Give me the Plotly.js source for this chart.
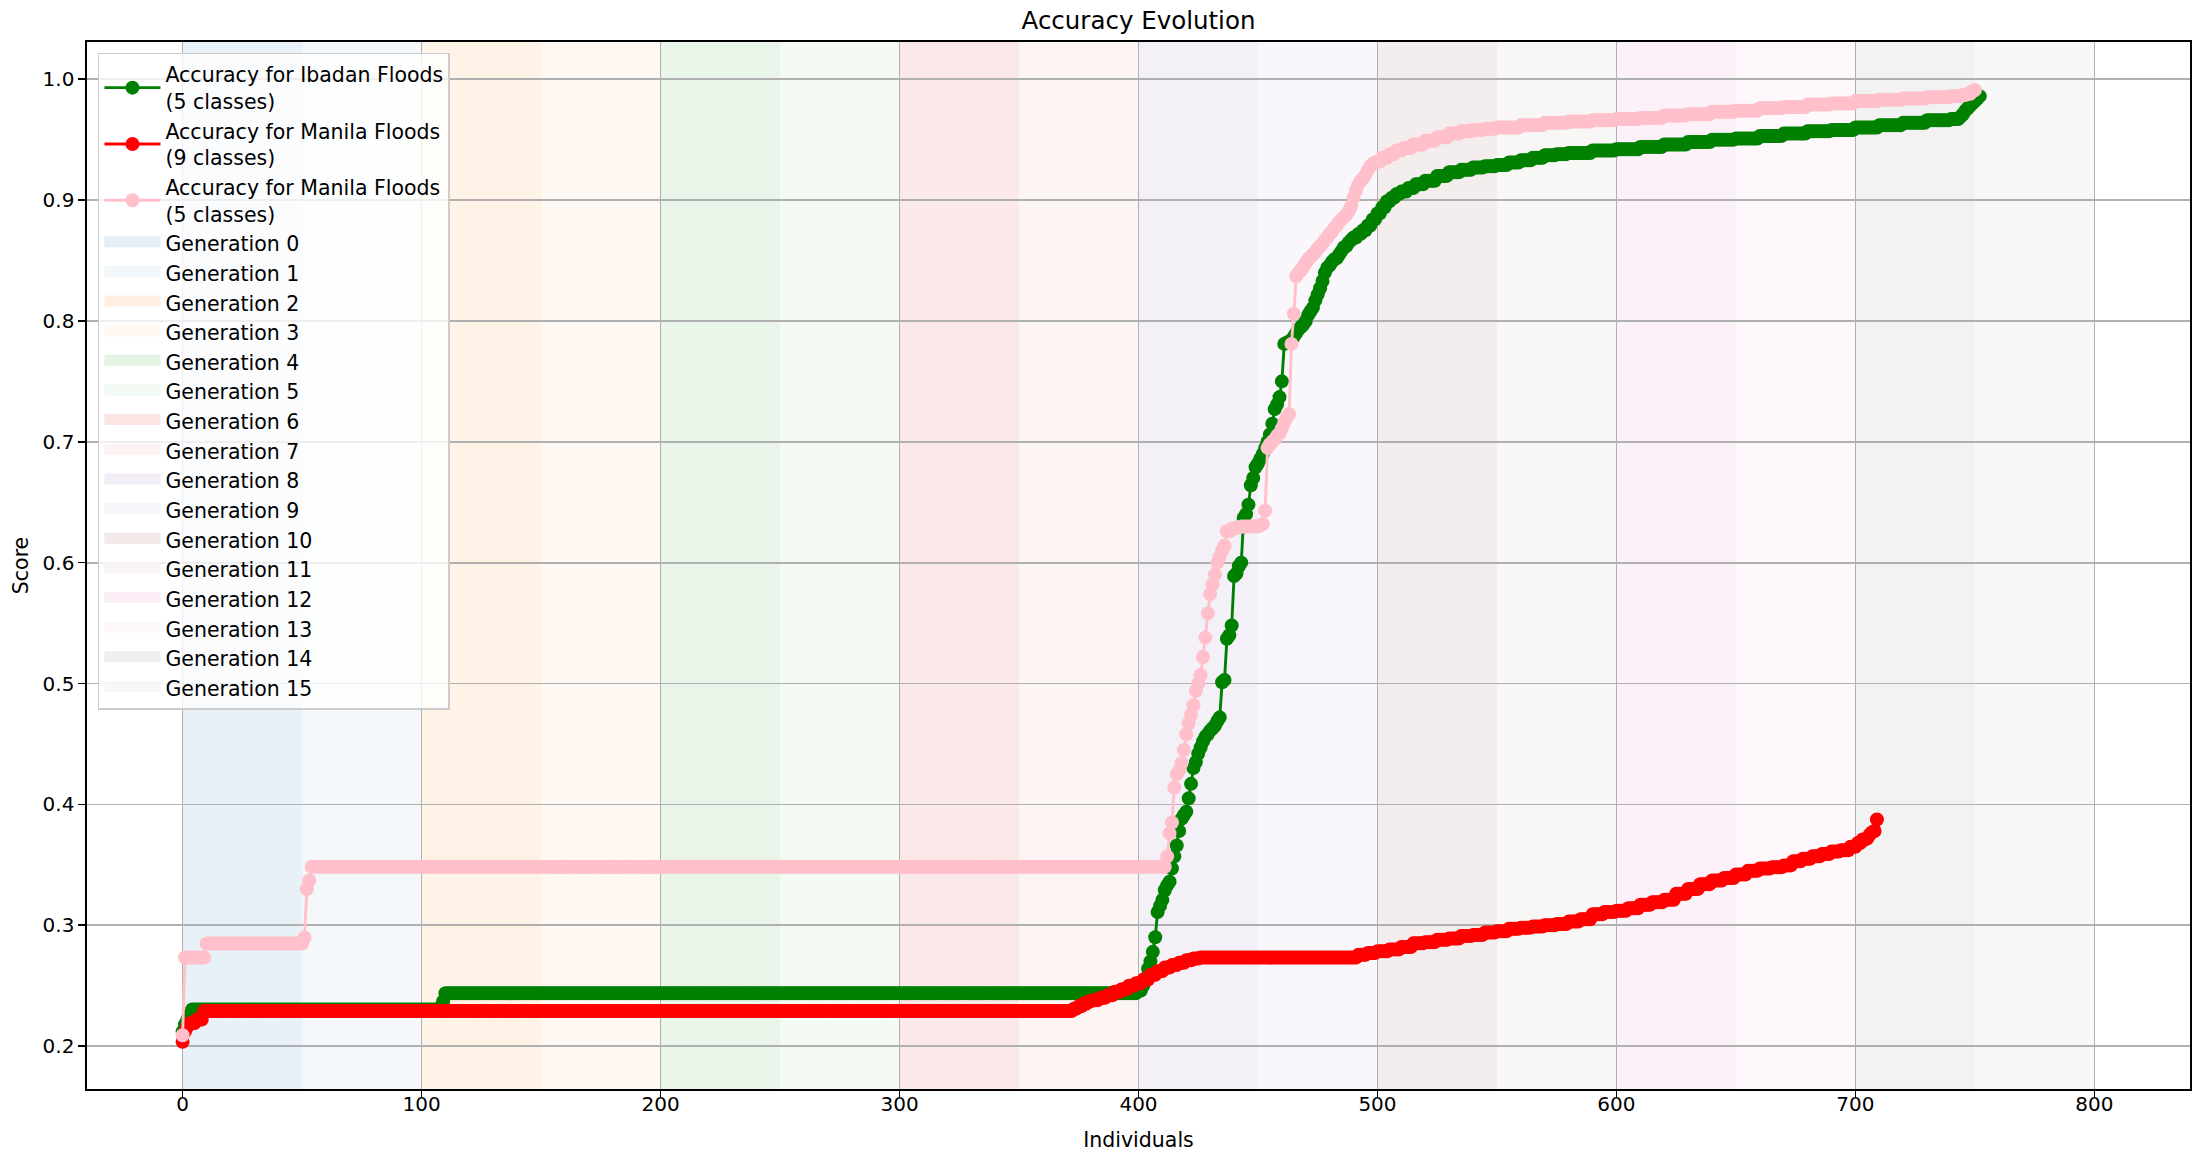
<!DOCTYPE html>
<html>
<head>
<meta charset="utf-8">
<script src="https://cdn.plot.ly/plotly-3.0.1.min.js"></script>
<style>html,body{margin:0;padding:0;background:#fff;}</style>
</head>
<body>
<div id="chart" style="width:2203px;height:1159px;"></div>
<script>
// ---- Data ----
// Each series: individual index where a score value starts, and that score (held until the next listed index).
const ibadanFrom = [0,1,2,3,4,108,109,110,400,402,403,404,405,406,407,408,409,410,411,412,413,414,415,416,417,418,419,420,421,422,423,424,425,426,427,428,429,430,431,432,433,434,435,436,437,438,439,440,441,442,443,444,445,446,447,448,449,450,451,452,453,454,455,456,457,458,459,460,461,462,463,464,465,466,467,468,469,470,471,472,473,474,475,476,477,478,479,480,481,482,483,484,485,486,487,488,489,490,492,494,496,498,500,502,504,506,508,510,513,516,520,525,530,535,540,545,550,555,560,565,570,575,580,590,600,610,620,630,640,650,660,670,680,690,700,710,720,730,740,744,745,746,747,748,749,750,751,752];
const ibadanScore = [0.212,0.218,0.222,0.226,0.2303,0.232,0.237,0.2438,0.246,0.250,0.256,0.264,0.270,0.278,0.290,0.311,0.316,0.321,0.329,0.333,0.336,0.347,0.357,0.366,0.378,0.388,0.391,0.394,0.405,0.417,0.430,0.435,0.442,0.447,0.452,0.456,0.458,0.461,0.463,0.465,0.469,0.472,0.501,0.503,0.537,0.540,0.548,0.589,0.591,0.597,0.600,0.637,0.640,0.648,0.664,0.670,0.679,0.682,0.686,0.690,0.695,0.700,0.706,0.715,0.727,0.731,0.737,0.750,0.781,0.782,0.783,0.784,0.787,0.790,0.793,0.795,0.797,0.800,0.805,0.808,0.811,0.817,0.822,0.827,0.833,0.840,0.844,0.846,0.849,0.851,0.852,0.855,0.858,0.861,0.862,0.865,0.867,0.869,0.872,0.875,0.879,0.884,0.889,0.894,0.899,0.902,0.905,0.907,0.910,0.913,0.916,0.920,0.923,0.925,0.927,0.928,0.929,0.931,0.933,0.935,0.937,0.938,0.939,0.941,0.942,0.944,0.946,0.948,0.950,0.951,0.953,0.955,0.957,0.958,0.960,0.962,0.964,0.966,0.967,0.969,0.971,0.974,0.976,0.978,0.980,0.982,0.984,0.986];
const ibadanCount = 753;

const manila9From = [0,1,2,3,6,9,373,375,377,379,381,384,387,390,393,396,399,402,405,408,411,414,417,420,423,426,492,496,500,505,510,515,520,525,530,535,540,545,550,555,560,565,570,575,580,585,590,595,600,605,610,615,620,625,630,635,640,645,650,655,660,665,670,674,678,682,686,690,694,698,701,703,705,706,707,708,709];
const manila9Score = [0.2035,0.212,0.216,0.219,0.222,0.229,0.231,0.233,0.235,0.237,0.238,0.240,0.242,0.245,0.247,0.250,0.252,0.255,0.259,0.262,0.265,0.267,0.269,0.271,0.2725,0.2733,0.2755,0.277,0.2785,0.280,0.282,0.285,0.286,0.288,0.289,0.291,0.292,0.294,0.295,0.297,0.298,0.299,0.300,0.301,0.303,0.305,0.309,0.311,0.312,0.314,0.317,0.319,0.321,0.326,0.330,0.334,0.337,0.339,0.342,0.345,0.347,0.348,0.3495,0.353,0.355,0.357,0.359,0.361,0.362,0.365,0.368,0.371,0.372,0.375,0.377,0.378,0.3875];
const manila9Count = 710;

const manila5From = [0,1,10,51,52,53,54,412,413,414,415,416,417,418,419,420,421,422,423,424,425,426,427,428,429,430,431,432,433,434,435,436,437,439,441,443,451,452,453,454,455,456,457,458,459,460,461,462,463,464,465,466,467,468,469,470,471,472,473,474,475,476,477,478,479,480,481,482,483,484,485,486,487,488,489,490,491,492,493,494,495,496,497,498,499,500,502,505,508,511,515,520,525,530,535,540,545,550,560,570,580,590,600,610,620,630,640,650,660,670,680,690,700,710,720,730,740,745,747,749,750];
const manila5Score = [0.209,0.2733,0.2849,0.2898,0.330,0.337,0.3484,0.357,0.376,0.385,0.414,0.425,0.428,0.434,0.445,0.458,0.467,0.474,0.482,0.494,0.500,0.507,0.522,0.538,0.558,0.574,0.582,0.590,0.600,0.605,0.610,0.614,0.626,0.628,0.629,0.630,0.631,0.632,0.643,0.695,0.698,0.700,0.702,0.705,0.707,0.711,0.716,0.720,0.723,0.781,0.806,0.837,0.840,0.842,0.845,0.848,0.851,0.853,0.855,0.857,0.860,0.862,0.864,0.867,0.869,0.872,0.874,0.877,0.879,0.882,0.884,0.886,0.888,0.891,0.895,0.902,0.908,0.913,0.916,0.918,0.921,0.925,0.928,0.930,0.931,0.932,0.935,0.938,0.941,0.943,0.946,0.949,0.952,0.955,0.957,0.958,0.959,0.960,0.962,0.964,0.965,0.966,0.967,0.968,0.970,0.971,0.973,0.974,0.976,0.977,0.979,0.980,0.982,0.983,0.984,0.985,0.986,0.987,0.988,0.990,0.991];
const manila5Count = 751;

const seriesNames = [
  'Accuracy for Ibadan Floods<br>(5 classes)',
  'Accuracy for Manila Floods<br>(9 classes)',
  'Accuracy for Manila Floods<br>(5 classes)'
];

const generationNames = ['Generation 0','Generation 1','Generation 2','Generation 3','Generation 4','Generation 5','Generation 6','Generation 7','Generation 8','Generation 9','Generation 10','Generation 11','Generation 12','Generation 13','Generation 14','Generation 15'];
const generationStart = [0,50,100,150,200,250,300,350,400,450,500,550,600,650,700,750];
const generationEnd   = [50,100,150,200,250,300,350,400,450,500,550,600,650,700,750,800];

const xTickVals = [0,100,200,300,400,500,600,700,800];
const yTickVals = [0.2,0.3,0.4,0.5,0.6,0.7,0.8,0.9,1.0];

// ---- Styles ----
const seriesColors = ['#008000','#ff0000','#ffc0cb'];
const genBase = [[31,119,180],[31,119,180],[255,127,14],[255,127,14],[44,160,44],[44,160,44],[214,39,40],[214,39,40],[148,103,189],[148,103,189],[140,86,75],[140,86,75],[227,119,194],[227,119,194],[127,127,127],[127,127,127]];
const genAlpha = [0.1,0.05];
const FONT = 'DejaVu Sans';

function expand(from, score, count) {
  const x = [], y = [];
  for (let k = 0; k < from.length; k++) {
    const end = (k + 1 < from.length) ? from[k + 1] : count;
    for (let i = from[k]; i < end; i++) { x.push(i); y.push(score[k]); }
  }
  return {x, y};
}

const sets = [
  expand(ibadanFrom, ibadanScore, ibadanCount),
  expand(manila9From, manila9Score, manila9Count),
  expand(manila5From, manila5Score, manila5Count)
];

const traces = sets.map((s, i) => ({
  type: 'scatter',
  mode: 'lines+markers',
  x: s.x, y: s.y,
  name: seriesNames[i],
  legendrank: i + 1,
  line: {color: seriesColors[i], width: 2.9},
  marker: {color: seriesColors[i], size: 14, line: {width: 0}},
  hoverinfo: 'skip'
}));

function genColor(k) { return 'rgba(' + genBase[k].join(',') + ',' + genAlpha[k % 2] + ')'; }
// same tint, pre-blended on the (near-white) legend background
function genSwatch(k) {
  const a = genAlpha[k % 2] * 1.25;
  return 'rgb(' + genBase[k].map(c => Math.round(255 - a * (255 - c))).join(',') + ')';
}

// Legend patches for the generation spans (legend entry only; spans are drawn as shapes)
generationNames.forEach((n, k) => {
  traces.push({
    type: 'scatter', mode: 'lines',
    x: [null], y: [null],
    fill: 'toself', fillcolor: genSwatch(k),
    name: n, legendrank: 10 + k,
    line: {color: genSwatch(k), width: 10},
    hoverinfo: 'skip'
  });
});

const shapes = generationNames.map((n, k) => ({
  type: 'rect', xref: 'x', yref: 'paper',
  x0: generationStart[k], x1: generationEnd[k], y0: 0, y1: 1,
  fillcolor: genColor(k), line: {width: 0},
  layer: 'below'
}));

const axisCommon = {
  showgrid: true, gridcolor: '#b0b0b0', gridwidth: 1.7,
  zeroline: false, showline: true, linecolor: 'black', linewidth: 1.6, mirror: true,
  ticks: 'outside', ticklen: 7, tickwidth: 1.5, tickcolor: 'black',
  tickfont: {family: FONT, size: 20, color: 'black'},
  automargin: false
};

const layout = {
  width: 2203, height: 1159,
  margin: {l: 87, r: 13, t: 42, b: 70, pad: 0},
  paper_bgcolor: 'white', plot_bgcolor: 'white',
  font: {family: FONT, size: 20, color: 'black'},
  title: {text: 'Accuracy Evolution', font: {family: FONT, size: 24.5, color: 'black'},
          x: 0.5, xref: 'paper', xanchor: 'center', y: 1 - 20/1159, yref: 'container', yanchor: 'middle'},
  xaxis: Object.assign({}, axisCommon, {
    range: [-40, 840], tickvals: xTickVals, ticklabelstandoff: -11,
    title: {text: 'Individuals', font: {family: FONT, size: 20.5, color: 'black'}, standoff: 18}
  }),
  yaxis: Object.assign({}, axisCommon, {
    range: [0.1645, 1.0308], tickvals: yTickVals, tickformat: '.1f',
    title: {text: 'Score', font: {family: FONT, size: 20.5, color: 'black'}, standoff: 8}
  }),
  legend: {
    x: 0.0052, y: 0.9895, xanchor: 'left', yanchor: 'top',
    bgcolor: 'rgba(255,255,255,0.8)', bordercolor: '#cccccc', borderwidth: 1.5,
    font: {family: FONT, size: 20.5, color: 'black'},
    itemwidth: 56, tracegroupgap: 0, traceorder: 'normal'
  },
  shapes: shapes,
  showlegend: true,
  hovermode: false
};

Plotly.newPlot('chart', traces, layout, {displayModeBar: false, staticPlot: true});
</script>
</body>
</html>
